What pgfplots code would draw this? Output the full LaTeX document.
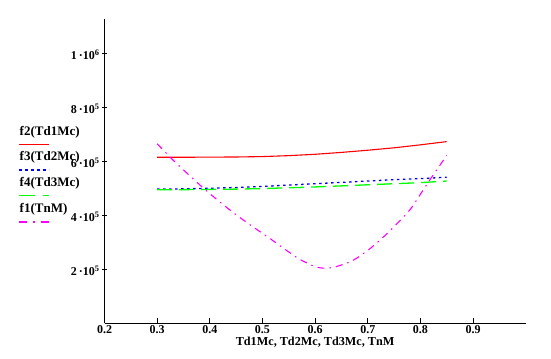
\documentclass[border=0pt]{standalone}
\usepackage{fontspec}
\setmainfont{Liberation Serif}
\usepackage{pgfplots}
\pgfplotsset{compat=1.18}
\definecolor{mag}{RGB}{255,0,255}
\definecolor{grn}{RGB}{0,255,0}
\definecolor{blu}{RGB}{0,0,255}
\definecolor{rd}{RGB}{255,0,0}
\begin{document}
\begin{tikzpicture}
\path[use as bounding box] (0,0) rectangle (551bp,359bp);
\begin{axis}[
  at={(104.5bp,35.7bp)}, anchor=south west,
  scale only axis, width=421.2bp, height=304bp,
  xmin=0.2, xmax=1.0, ymin=0, ymax=1126000,
  axis lines=left, axis line style={-, line width=0.9bp},
  xtick={0.2,0.3,0.4,0.5,0.6,0.7,0.8,0.9},
  xticklabels={0.2,0.3,0.4,0.5,0.6,0.7,0.8,0.9},
  ytick={200000,400000,600000,800000,1000000},
  yticklabels={2\,·10\textsuperscript{5},4\,·10\textsuperscript{5},6\,·10\textsuperscript{5},8\,·10\textsuperscript{5},1\,·10\textsuperscript{6}},
  scaled y ticks=false,
  major tick length=5bp,
  xtick align=inside, ytick align=center,
  tick style={black, line width=0.9bp},
  ticklabel style={font=\fontsize{12bp}{13bp}\selectfont\bfseries},
  yticklabel style={xshift=1bp, yshift=-1.5bp},
  xticklabel style={yshift=1.5bp},
  xlabel={Td1Mc, Td2Mc, Td3Mc, TnM},
  xlabel style={font=\fontsize{12.2bp}{13bp}\selectfont\bfseries, yshift=3bp},
  clip=false,
]
\addplot[rd, line width=1.1bp] table {
0.30 615000
0.35 615000
0.40 615500
0.45 616000
0.50 617500
0.55 621000
0.60 626000
0.65 633000
0.70 641000
0.75 650000
0.80 661000
0.85 673000
};
\addplot[blu, line width=1.3bp, dash pattern=on 2.5bp off 3.5bp] table {
0.30 497000
0.35 498000
0.40 500000
0.45 503000
0.50 507000
0.55 512000
0.60 517000
0.65 522000
0.70 527000
0.75 532000
0.80 536000
0.85 541000
};
\addplot[grn, line width=1.3bp, dash pattern=on 15bp off 7bp] table {
0.30 495000
0.35 495000
0.40 496000
0.45 497000
0.50 499000
0.55 502000
0.60 505000
0.65 509000
0.70 513000
0.75 517000
0.80 521000
0.85 527000
};
\addplot[mag, line width=1.1bp, smooth, dash pattern=on 7bp off 5bp on 1.5bp off 5bp] table {
0.30 665000
0.33 605000
0.36 550000
0.39 497000
0.42 448000
0.45 402000
0.48 360000
0.51 320000
0.54 278000
0.57 238000
0.60 210000
0.62 204000
0.64 210000
0.67 231000
0.70 270000
0.73 320000
0.75 358000
0.78 420000
0.80 478000
0.82 537000
0.85 622000
};
\end{axis}
\begin{scope}[every node/.style={anchor=west, inner sep=0pt, font=\fontsize{13bp}{14bp}\selectfont\bfseries}]
\node at (19.5bp,227bp) {f2(Td1Mc)};
\draw[rd, line width=1.1bp] (19bp,214.7bp) -- (49bp,214.7bp);
\node at (19.5bp,202bp) {f3(Td2Mc)};
\draw[blu, line width=1.3bp, dash pattern=on 2.5bp off 3.5bp] (19bp,189bp) -- (49bp,189bp);
\node at (19.5bp,175.7bp) {f4(Td3Mc)};
\draw[grn, line width=1.3bp, dash pattern=on 16bp off 8bp] (19bp,163.3bp) -- (49bp,163.3bp);
\node at (19.5bp,149.7bp) {f1(TnM)};
\draw[mag, line width=1.1bp, dash pattern=on 8bp off 6bp on 1.5bp off 6bp] (19bp,137bp) -- (49bp,137bp);
\end{scope}
\end{tikzpicture}
\end{document}
